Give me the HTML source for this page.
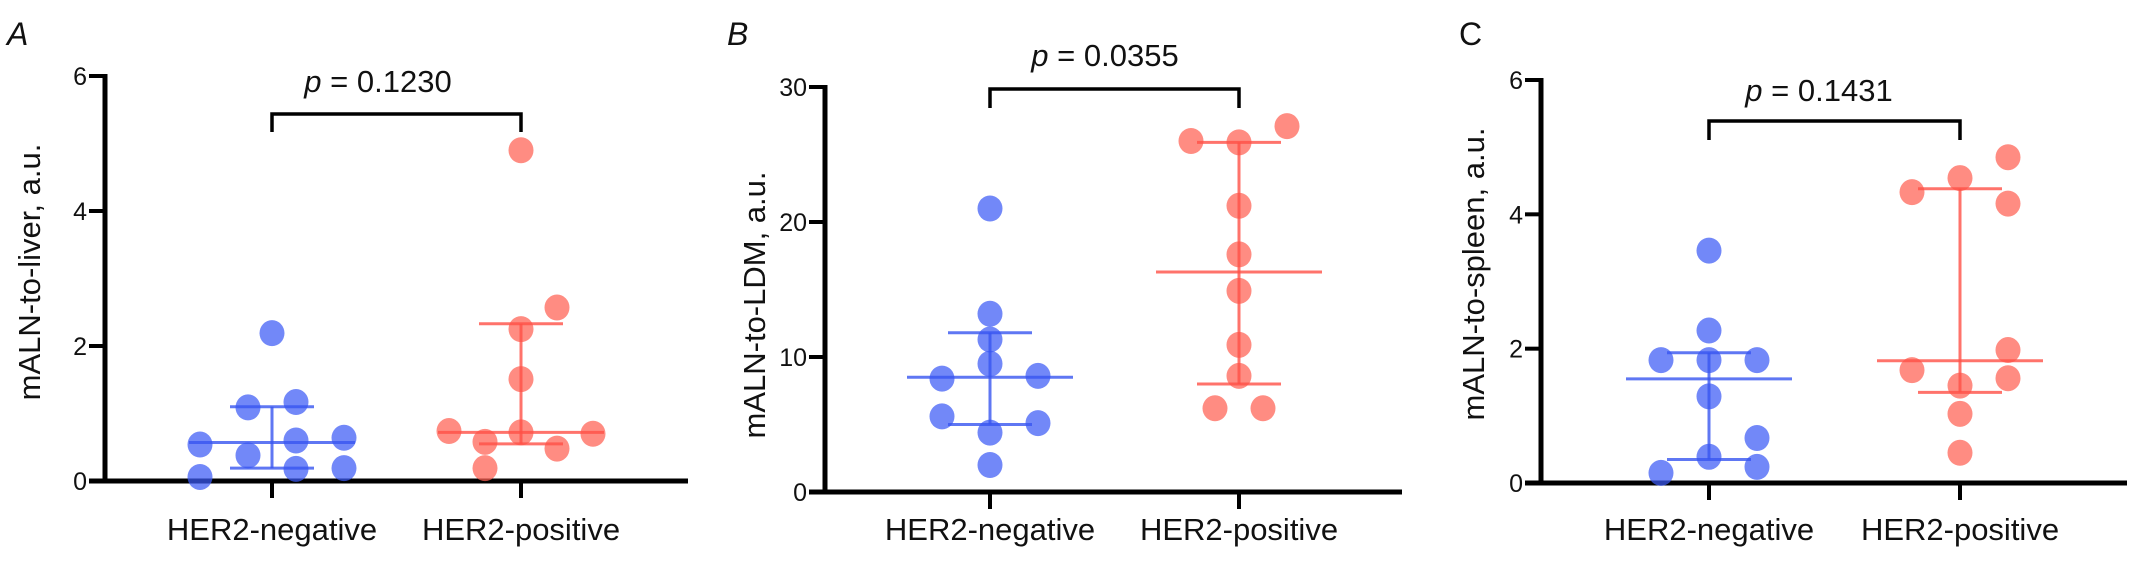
<!DOCTYPE html>
<html><head><meta charset="utf-8">
<style>
html,body{margin:0;padding:0;background:#fff;}
svg{display:block;}
text{font-family:"Liberation Sans",sans-serif;fill:#111;}
</style></head>
<body>
<svg id="fig" width="2132" height="573" viewBox="0 0 2132 573" xmlns="http://www.w3.org/2000/svg"></svg>
<script>
// ---- data ----
const categories = ["HER2-negative","HER2-positive"];
const panelLetters = ["A","B","C"];
const yTitles = ["mALN-to-liver, a.u.","mALN-to-LDM, a.u.","mALN-to-spleen, a.u."];
const pLabels = ["0.1230","0.0355","0.1431"];
const yMaxes = [6,30,6];
const ticksA = [0,2,4,6];
const ticksB = [0,10,20,30];
const ticksC = [0,2,4,6];

const negA = [2.19,1.09,1.17,0.54,0.60,0.64,0.38,0.18,0.19,0.06];
const negSlotA = [0,-1,1,-3,1,3,-1,1,3,-3];
const posA = [4.90,2.57,2.25,1.51,0.74,0.72,0.70,0.58,0.48,0.19];
const posSlotA = [0,1.5,0,0,-3,0,3,-1.5,1.5,-1.5];
const statNegA = [0.19,0.57,1.10];
const statPosA = [0.55,0.72,2.33];

const negB = [21.0,13.2,11.3,9.5,8.4,8.6,5.6,5.1,4.4,2.0];
const negSlotB = [0,0,0,0,-2,2,-2,2,0,0];
const posB = [26.0,25.9,27.1,21.2,17.6,14.9,10.9,8.6,6.2,6.2];
const posSlotB = [-2,0,2,0,0,0,0,0,-1,1];
const statNegB = [5.0,8.5,11.8];
const statPosB = [8.0,16.3,25.9];

const negC = [3.46,2.27,1.83,1.83,1.83,1.29,0.67,0.39,0.24,0.15];
const negSlotC = [0,0,-2,0,2,0,2,0,2,-2];
const posC = [4.85,4.54,4.33,4.16,1.98,1.68,1.56,1.45,1.03,0.45];
const posSlotC = [2,0,-2,2,2,-2,2,0,0,0];
const statNegC = [0.35,1.55,1.94];
const statPosC = [1.35,1.82,4.38];

// ---- layout ----
const NS="http://www.w3.org/2000/svg";
const svg=document.getElementById('fig');
function mk(tag,attrs,parent){const e=document.createElementNS(NS,tag);for(const k in attrs)e.setAttribute(k,attrs[k]);(parent||svg).appendChild(e);return e;}

const panels=[
 {ax:105,top:76,zero:481,g:[272,521],right:688,letterX:7,titleX:40,titleY:272,pX:378,pY:92,brTop:114,brBot:132,italic:true,ticks:ticksA,neg:negA,ns:negSlotA,pos:posA,ps:posSlotA,sn:statNegA,sp:statPosA},
 {ax:825,top:87,zero:492,g:[990,1239],right:1402,letterX:727,titleX:765,titleY:305,pX:1105,pY:66,brTop:89,brBot:108,italic:true,ticks:ticksB,neg:negB,ns:negSlotB,pos:posB,ps:posSlotB,sn:statNegB,sp:statPosB},
 {ax:1541,top:80,zero:483,g:[1709,1960],right:2127,letterX:1459,titleX:1484,titleY:274,pX:1819,pY:101,brTop:121,brBot:140,italic:false,ticks:ticksC,neg:negC,ns:negSlotC,pos:posC,ps:posSlotC,sn:statNegC,sp:statPosC}
];
const SLOT=24;
const colors=[{f:"rgb(60,90,245)",l:"rgba(55,85,240,0.8)"},{f:"rgb(255,95,82)",l:"rgba(255,80,70,0.8)"}];

panels.forEach((P,i)=>{
  const g=mk('g',{});
  
  
  const ymax=yMaxes[i];
  const Y=v=>P.zero-(v/ymax)*(P.zero-P.top);

  const lt=mk('text',{x:P.letterX,y:45,'font-size':32,'font-style':P.italic?'italic':'normal'},g);
  lt.textContent=panelLetters[i];
  
  

  const yt=mk('text',{x:0,y:0,'font-size':31,'text-anchor':'middle',transform:`translate(${P.titleX},${P.titleY}) rotate(-90)`},g);
  yt.textContent=yTitles[i];
  
  

  const yaxis=mk('line',{x1:P.ax,y1:P.top-2,x2:P.ax,y2:P.zero+2,stroke:'#000','stroke-width':5},g);
  
  
  const xaxis=mk('line',{x1:P.ax-16,y1:P.zero,x2:P.right,y2:P.zero,stroke:'#000','stroke-width':5},g);
  
  

  P.ticks.forEach(t=>{
    const ty=Y(t);
    const tk=mk('line',{x1:P.ax-16,y1:ty,x2:P.ax,y2:ty,stroke:'#000','stroke-width':4},g);
    
    
    const tl=mk('text',{x:P.ax-18,y:ty+9,'font-size':25,'text-anchor':'end'},g);
    tl.textContent=t;
    
    
  });
  categories.forEach((c,j)=>{
    const tk=mk('line',{x1:P.g[j],y1:P.zero,x2:P.g[j],y2:P.zero+17,stroke:'#000','stroke-width':4},g);
    
    
    const tl=mk('text',{x:P.g[j],y:540,'font-size':31,'text-anchor':'middle'},g);
    tl.textContent=c;
    
    
  });

  const br=mk('path',{d:`M${P.g[0]},${P.brBot} V${P.brTop} H${P.g[1]} V${P.brBot}`,fill:'none',stroke:'#000','stroke-width':3.5},g);
  
  
  const pt=mk('text',{x:P.pX,y:P.pY,'font-size':31,'text-anchor':'middle'},g);
  pt.innerHTML='<tspan font-style="italic">p</tspan> = '+pLabels[i];
  
  

  const groups=[[P.neg,P.ns,P.sn],[P.pos,P.ps,P.sp]];
  groups.forEach((gr,j)=>{
    const [vals,slots,st]=gr;
    const cx=P.g[j];
    const sg=mk('g',{},g);
    
    
    vals.forEach((v,k)=>{
      const c=mk('ellipse',{cx:cx+slots[k]*SLOT,cy:Y(v),rx:12.5,ry:13,fill:colors[j].f,'fill-opacity':0.72},sg);
      
      
    });
    const lc=colors[j].l;
    const wl=mk('line',{x1:cx,y1:Y(st[0]),x2:cx,y2:Y(st[2]),stroke:lc,'stroke-width':3},sg);
    
    
    const q1=mk('line',{x1:cx-42,y1:Y(st[0]),x2:cx+42,y2:Y(st[0]),stroke:lc,'stroke-width':3},sg);
    
    
    const q3=mk('line',{x1:cx-42,y1:Y(st[2]),x2:cx+42,y2:Y(st[2]),stroke:lc,'stroke-width':3},sg);
    
    
    const md=mk('line',{x1:cx-83,y1:Y(st[1]),x2:cx+83,y2:Y(st[1]),stroke:lc,'stroke-width':3},sg);
    
    
  });
});
</script>
</body></html>
